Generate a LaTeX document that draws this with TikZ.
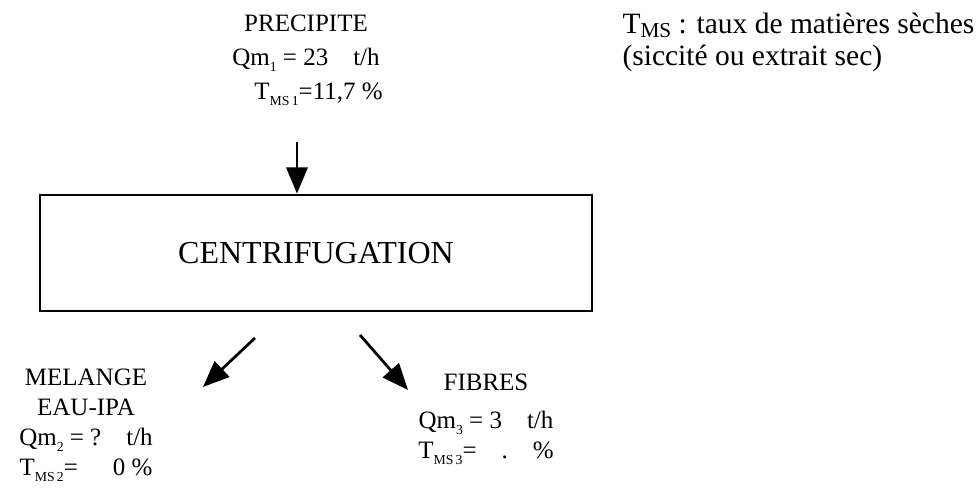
\documentclass[tikz,border=0pt]{standalone}
\usepackage{fontspec}
\setmainfont{Liberation Serif}
\usetikzlibrary{arrows.meta}

\newcommand{\smallsub}[1]{\raisebox{-0.55ex}{\fontsize{5.5}{6}\selectfont #1}}
\newcommand{\Tms}[1]{T\smallsub{MS\,#1}}

\begin{document}
\begin{tikzpicture}[
    x=0.4pt, y=-0.4pt,
    >={Triangle[length=10.5pt,width=8.5pt]},
    procbox/.style = {draw, line width=1.1pt, minimum width=220.8pt,
                      minimum height=46.4pt, inner sep=0pt,
                      font=\fontsize{12.8}{15}\selectfont},
    stream/.style  = {align=center, inner sep=0pt, anchor=north,
                      font=\fontsize{10}{12}\selectfont},
    legend/.style  = {align=left, inner sep=0pt, anchor=north west,
                      font=\fontsize{11.8}{12.8}\selectfont},
    flow/.style    = {draw, line width=1.1pt, ->},
  ]
  \useasboundingbox (0,0) rectangle (976,497);

  % --- process ---------------------------------------------------------
  \node[procbox] (centri) at (316,253) {CENTRIFUGATION};

  % --- feed ------------------------------------------------------------
  \node[stream, font=\fontsize{10}{13.6}\selectfont] (precipite) at (306,14)
    {PRECIPITE\\Qm\smallsub{1} = 23\quad t/h\\\hspace*{1em}\Tms{1}=11,7 \%};
  \coordinate (inflow) at (297,142);
  \draw[flow] (inflow) -- (inflow |- centri.north);

  % --- outputs ---------------------------------------------------------
  \node[stream] (melange) at (86,368)
    {MELANGE\\EAU-IPA\\Qm\smallsub{2} = ?\quad t/h\\\Tms{2}=\hspace{1.4em}0 \%};
  \node[stream] (fibres) at (486,373)
    {FIBRES\\[3.2pt]Qm\smallsub{3} = 3\quad t/h\\\Tms{3}=\hspace{1em}.\hspace{1em}\%};

  \coordinate (outL) at (255,338);
  \coordinate (outR) at (360,335);
  \draw[flow] (outL) -- ++(-52,49);
  \draw[flow] (outR) -- ++(48,55);

  % --- legend ----------------------------------------------------------
  \node[legend] (tmsnote) at (622,12)
    {T\raisebox{-0.35ex}{\fontsize{8.5}{9}\selectfont MS} : taux de matières sèches\\(siccité ou extrait sec)};
\end{tikzpicture}
\end{document}
